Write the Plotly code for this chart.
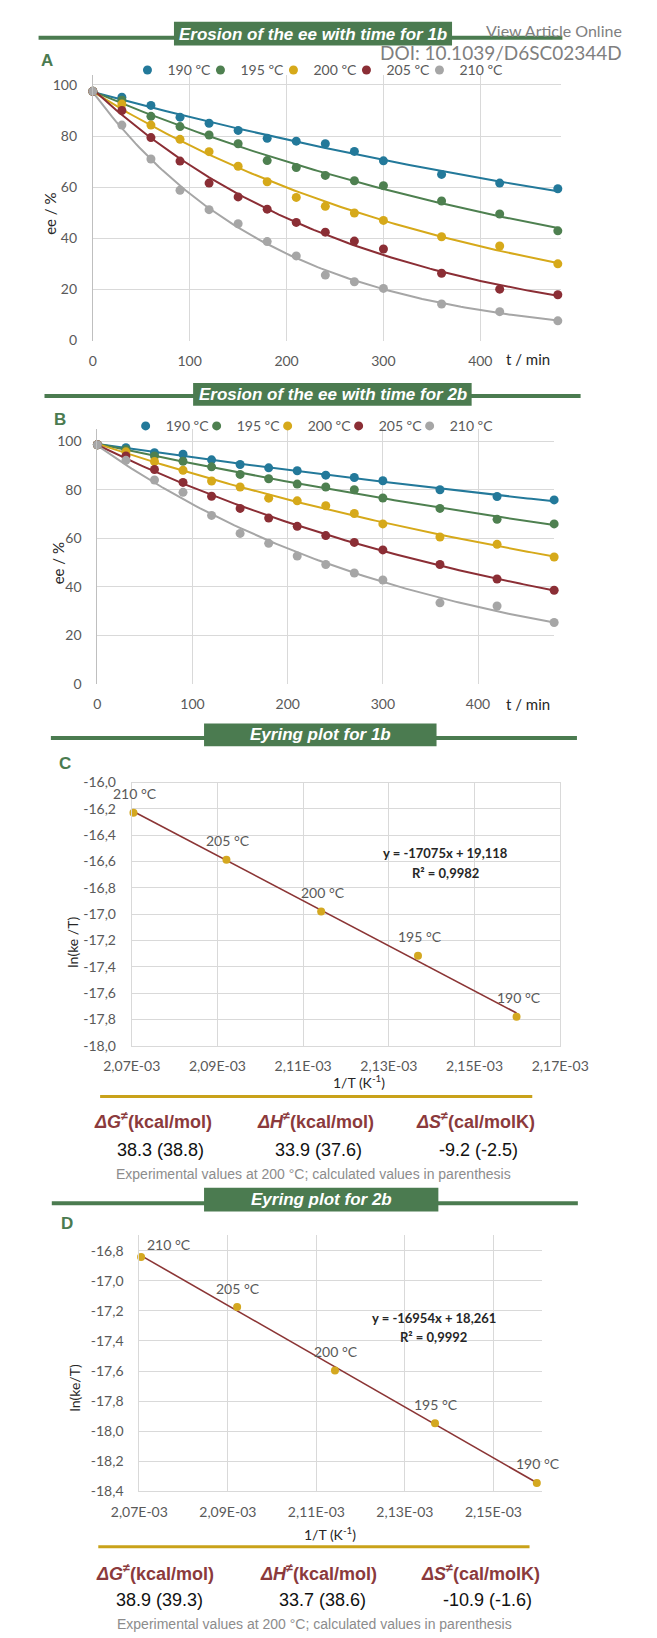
import numpy as np
import plotly.graph_objects as go

W, H = 657, 1638

# ---------------- data ----------------
t_min = [0, 30, 60, 90, 120, 150, 180, 210, 240, 270, 300, 360, 420, 480]
series_names = ["190 ºC", "195 ºC", "200 ºC", "205 ºC", "210 ºC"]
series_colors = ["#23799A", "#4E8050", "#D6A91A", "#8B2E35", "#A6A6A6"]

A_190 = [97.5, 95.2, 92.0, 87.4, 85.0, 82.2, 79.1, 78.0, 77.0, 74.0, 70.3, 65.0, 61.6, 59.4]
A_195 = [97.5, 94.0, 87.7, 83.7, 80.4, 77.0, 70.4, 67.7, 64.6, 62.5, 60.6, 54.6, 49.5, 42.9]
A_200 = [97.5, 92.5, 84.3, 78.7, 73.9, 68.2, 62.1, 56.0, 52.5, 49.9, 47.0, 40.6, 37.0, 30.0]
A_205 = [97.5, 90.0, 79.4, 70.2, 61.6, 56.2, 51.4, 46.2, 42.4, 38.9, 35.8, 26.3, 20.1, 17.9]
A_210 = [97.5, 84.3, 71.0, 58.8, 51.2, 45.7, 38.7, 33.1, 25.6, 23.0, 20.4, 14.3, 11.3, 7.7]

B_190 = [98.5, 97.3, 95.2, 94.6, 92.3, 90.4, 89.0, 87.8, 86.0, 85.0, 83.7, 80.0, 77.2, 75.8]
B_195 = [98.5, 96.6, 93.9, 91.7, 89.4, 86.3, 84.5, 82.3, 81.1, 80.0, 76.6, 72.3, 67.8, 65.9]
B_200 = [98.5, 95.6, 91.6, 88.0, 83.6, 81.1, 76.5, 75.4, 73.4, 70.2, 65.9, 60.5, 57.5, 52.3]
B_205 = [98.5, 93.9, 88.3, 83.0, 77.3, 72.3, 68.3, 64.9, 61.1, 58.3, 55.2, 49.2, 43.2, 38.6]
B_210 = [98.5, 92.1, 84.0, 78.9, 69.4, 62.0, 57.9, 52.7, 49.2, 45.7, 42.8, 33.4, 32.1, 25.3]

ee_ticks = [0, 20, 40, 60, 80, 100]
t_ticks = [0, 100, 200, 300, 400]

invT = [2.0704e-3, 2.0921e-3, 2.1142e-3, 2.1368e-3, 2.1598e-3]
eyring_labels = ["210 °C", "205 °C", "200 °C", "195 °C", "190 °C"]
lnkT_1b = [-16.23, -16.586, -16.98, -17.316, -17.78]
lnkT_2b = [-16.84, -17.174, -17.596, -17.947, -18.345]

C_xticks = [2.07e-3, 2.09e-3, 2.11e-3, 2.13e-3, 2.15e-3, 2.17e-3]
C_xticktext = ["2,07E-03", "2,09E-03", "2,11E-03", "2,13E-03", "2,15E-03", "2,17E-03"]
C_yticks = [-18.0, -17.8, -17.6, -17.4, -17.2, -17.0, -16.8, -16.6, -16.4, -16.2, -16.0]
C_yticktext = ["-18,0", "-17,8", "-17,6", "-17,4", "-17,2", "-17,0", "-16,8", "-16,6", "-16,4", "-16,2", "-16,0"]
D_xticks = [2.07e-3, 2.09e-3, 2.11e-3, 2.13e-3, 2.15e-3]
D_xticktext = ["2,07E-03", "2,09E-03", "2,11E-03", "2,13E-03", "2,15E-03"]
D_yticks = [-18.4, -18.2, -18.0, -17.8, -17.6, -17.4, -17.2, -17.0, -16.8]
D_yticktext = ["-18,4", "-18,2", "-18,0", "-17,8", "-17,6", "-17,4", "-17,2", "-17,0", "-16,8"]

eq_1b = ["y = -17075x + 19,118", "R² = 0,9982"]
eq_2b = ["y = -16954x + 18,261", "R² = 0,9992"]

table_headers = [("ΔG", "(kcal/mol)"), ("ΔH", "(kcal/mol)"), ("ΔS", "(cal/molK)")]
table_1b = ["38.3 (38.8)", "33.9 (37.6)", "-9.2 (-2.5)"]
table_2b = ["38.9 (39.3)", "33.7 (38.6)", "-10.9 (-1.6)"]
footnote = "Experimental values at 200 °C; calculated values in parenthesis"

# ---------------- helpers ----------------
def px(x):
    return x / W

def py(y):
    return 1 - y / H

GREEN = "#4B7B50"
GOLD_LINE = "#C9A21A"
DARKRED = "#8B3A3C"
TICK_COL = "#595959"
GRID = "#D9D9D9"
AXFONT = "Lato, Liberation Sans, sans-serif"
ARIAL = "Liberation Sans, Arial, sans-serif"

fig = go.Figure()

def add_kinetics(series, xa, ya, legend_name):
    for vals, name, col in zip(series, series_names, series_colors):
        t = np.array(t_min, dtype=float)
        v = np.array(vals, dtype=float)
        coef = np.polyfit(t, np.log(v), 1)
        tf = np.linspace(0, max(t_min), 121)
        fig.add_trace(go.Scatter(x=tf, y=np.exp(np.polyval(coef, tf)), mode="lines",
                                 line=dict(color=col, width=2), showlegend=False,
                                 xaxis=xa, yaxis=ya, hoverinfo="skip"))
    for vals, name, col in zip(series, series_names, series_colors):
        fig.add_trace(go.Scatter(x=t_min, y=vals, mode="markers", name=name,
                                 marker=dict(color=col, size=9), cliponaxis=False,
                                 xaxis=xa, yaxis=ya, legend=legend_name))
    # empty spacer entry so that the last legend label is not clipped
    fig.add_trace(go.Scatter(x=[None], y=[None], mode="markers", name=" ",
                             marker=dict(color="rgba(0,0,0,0)", size=1),
                             xaxis=xa, yaxis=ya, legend=legend_name, hoverinfo="skip"))

add_kinetics([A_190, A_195, A_200, A_205, A_210], "x", "y", "legend")
add_kinetics([B_190, B_195, B_200, B_205, B_210], "x2", "y2", "legend2")

def add_eyring(yvals, xa, ya):
    coef = np.polyfit(invT, yvals, 1)
    xf = np.array([min(invT), max(invT)])
    fig.add_trace(go.Scatter(x=xf, y=np.polyval(coef, xf), mode="lines",
                             line=dict(color="#8B3535", width=1.6), showlegend=False,
                             xaxis=xa, yaxis=ya))
    fig.add_trace(go.Scatter(x=invT, y=yvals, mode="markers", showlegend=False,
                             marker=dict(color="#D4A820", size=8), cliponaxis=False,
                             xaxis=xa, yaxis=ya))

add_eyring(lnkT_1b, "x3", "y3")
add_eyring(lnkT_2b, "x4", "y4")

tickfont = dict(family=AXFONT, size=14, color=TICK_COL)

layout = dict(
    width=W, height=H, margin=dict(l=0, r=0, t=0, b=0),
    paper_bgcolor="white", plot_bgcolor="white",
    # panel A
    xaxis=dict(domain=[px(70), px(583)], range=[0, 482.8], tickvals=t_ticks,
               showgrid=True, gridcolor=GRID, zeroline=False, showline=False,
               tickfont=tickfont, ticklabelstandoff=10, anchor="y"),
    yaxis=dict(domain=[py(335), py(66.4)], range=[0, 104], tickvals=ee_ticks,
               showgrid=True, gridcolor=GRID, zeroline=False, showline=True,
               linecolor="#BFBFBF", tickfont=tickfont, ticklabelstandoff=12, anchor="x"),
    # panel B
    xaxis2=dict(domain=[px(75), px(576)], range=[0, 480], tickvals=t_ticks,
                showgrid=True, gridcolor=GRID, zeroline=False, showline=False,
                tickfont=tickfont, ticklabelstandoff=10, anchor="y2"),
    yaxis2=dict(domain=[py(682), py(424.4)], range=[0, 105], tickvals=ee_ticks,
                showgrid=True, gridcolor=GRID, zeroline=False, showline=True,
                linecolor="#BFBFBF", tickfont=tickfont, ticklabelstandoff=12, anchor="x2"),
    # panel C
    xaxis3=dict(domain=[px(112.7), px(582.7)], range=[2.07e-3, 2.17e-3],
                tickvals=C_xticks, ticktext=C_xticktext, showgrid=True, gridcolor=GRID,
                zeroline=False, showline=True, mirror=True, linecolor=GRID,
                tickfont=tickfont, ticklabelstandoff=8, anchor="y3"),
    yaxis3=dict(domain=[py(1047.5), py(781.7)], range=[-18.0, -16.0],
                tickvals=C_yticks, ticktext=C_yticktext, showgrid=True, gridcolor=GRID,
                zeroline=False, showline=True, mirror=True, linecolor=GRID,
                tickfont=tickfont, ticklabelstandoff=12, anchor="x3"),
    # panel D
    xaxis4=dict(domain=[px(121), px(563)], range=[2.07e-3, 2.16104e-3],
                tickvals=D_xticks, ticktext=D_xticktext, showgrid=True, gridcolor=GRID,
                zeroline=False, showline=True, linecolor=GRID,
                tickfont=tickfont, ticklabelstandoff=8, anchor="y4"),
    yaxis4=dict(domain=[py(1497.7), py(1239.3)], range=[-18.4, -16.697],
                tickvals=D_yticks, ticktext=D_yticktext, showgrid=True, gridcolor=GRID,
                zeroline=False, showline=True, linecolor=GRID,
                tickfont=tickfont, ticklabelstandoff=12, anchor="x4"),
    legend=dict(orientation="h", x=px(108), y=py(62), xanchor="left", yanchor="middle",
                font=dict(family=AXFONT, size=14, color=TICK_COL), itemwidth=30,
                entrywidth=28, bgcolor="rgba(0,0,0,0)"),
    legend2=dict(orientation="h", x=px(106), y=py(421.7), xanchor="left", yanchor="middle",
                 font=dict(family=AXFONT, size=14, color=TICK_COL), itemwidth=30,
                 entrywidth=26, bgcolor="rgba(0,0,0,0)"),
)
fig.update_layout(**layout)

shapes = []
annotations = []

def paper_text(x, y, text, size, color, family=AXFONT, angle=0, xanchor="center"):
    annotations.append(dict(x=px(x), y=py(y), xref="paper", yref="paper", text=text,
                            showarrow=False, xanchor=xanchor, yanchor="middle",
                            textangle=angle,
                            font=dict(family=family, size=size, color=color)))

def banner(line_y, lx0, lx1, bx0, bx1, by0, by1, text, tx, ty):
    shapes.append(dict(type="line", xref="paper", yref="paper", x0=px(lx0), x1=px(lx1),
                       y0=py(line_y), y1=py(line_y), line=dict(color=GREEN, width=4)))
    shapes.append(dict(type="rect", xref="paper", yref="paper", x0=px(bx0), x1=px(bx1),
                       y0=py(by1), y1=py(by0), fillcolor=GREEN, line=dict(width=0)))
    paper_text(tx, ty, "<b><i>" + text + "</i></b>", 17, "white", family=ARIAL)

banner(29, 10.5, 585, 159, 464, 13, 37, "Erosion of the ee with time for 1b", 312, 25.5)
banner(391, 17, 605, 180, 485.5, 378, 401, "Erosion of the ee with time for 2b", 333, 389.5)
banner(736.7, 24, 601, 192, 447, 722, 745, "Eyring plot for 1b", 320, 733.5)
banner(1206.7, 25, 602, 192, 449, 1191, 1215, "Eyring plot for 2b", 321, 1203)

# panel letters
for letter, x, y in [("A", 20, 52), ("B", 34, 415), ("C", 39, 762), ("D", 42, 1227)]:
    paper_text(x, y, "<b>" + letter + "</b>", 17, GREEN, family=ARIAL)

# axis titles
paper_text(23, 207, "ee / %", 15, "#262626", angle=-90)
paper_text(32, 560, "ee / %", 15, "#262626", angle=-90)
paper_text(547, 354, "t / min", 15, "#262626")
paper_text(547, 702, "t / min", 15, "#262626")
paper_text(47.7, 943, "ln(ke /T)", 14, "#262626", angle=-90)
paper_text(50.5, 1393, "ln(ke/T)", 14, "#262626", angle=-90)
paper_text(362, 1084, "1/T (K<sup>-1</sup>)", 14, "#262626")
paper_text(330, 1540, "1/T (K<sup>-1</sup>)", 14, "#262626")

# equations
paper_text(457, 853, "<b>" + eq_1b[0] + "</b>", 13, "#262626")
paper_text(457, 873, "<b>" + eq_1b[1] + "</b>", 13, "#262626")
paper_text(444, 1323, "<b>" + eq_2b[0] + "</b>", 13, "#262626")
paper_text(444, 1342, "<b>" + eq_2b[1] + "</b>", 13, "#262626")

# eyring point labels
for i, lab in enumerate(eyring_labels):
    annotations.append(dict(x=invT[i], y=lnkT_1b[i], xref="x3", yref="y3", text=lab,
                            showarrow=False, yshift=19, xshift=2,
                            font=dict(family=AXFONT, size=14, color=TICK_COL)))
    annotations.append(dict(x=invT[i], y=lnkT_2b[i], xref="x4", yref="y4", text=lab,
                            showarrow=False, yshift=12 if i == 0 else 19,
                            xshift=28 if i == 0 else 1,
                            font=dict(family=AXFONT, size=14, color=TICK_COL)))

# tables
def table(line_y, lx0, lx1, head_y, head_x, val_y, val_x, vals, foot_y, foot_x):
    shapes.append(dict(type="line", xref="paper", yref="paper", x0=px(lx0), x1=px(lx1),
                       y0=py(line_y), y1=py(line_y), line=dict(color=GOLD_LINE, width=3)))
    for (sym, unit), x in zip(table_headers, head_x):
        paper_text(x, head_y, "<b><i>" + sym + "</i><sup>≠</sup>" + unit + "</b>", 18,
                   DARKRED, family=ARIAL)
    for v, x in zip(vals, val_x):
        paper_text(x, val_y, v, 18, "#111111", family=ARIAL)
    paper_text(foot_x, foot_y, footnote, 14, "#8C8C8C", family=ARIAL)

table(1099, 78, 552, 1123, [136, 314, 490], 1153, [144, 318, 493], table_1b, 1177, 312)
table(1554, 76, 549, 1580, [138.5, 317.5, 495], 1608, [143, 322, 502.5], table_2b, 1632, 313)

# journal overlay text
paper_text(653, 22, "View Article Online", 16, "#7F7F7F", xanchor="right")
paper_text(653, 44, "DOI: 10.1039/D6SC02344D", 19, "#7F7F7F", xanchor="right")

fig.update_layout(shapes=shapes, annotations=annotations)
fig.write_html("out.html", config={"displayModeBar": False},
               post_script="document.body.style.margin='0px';")
